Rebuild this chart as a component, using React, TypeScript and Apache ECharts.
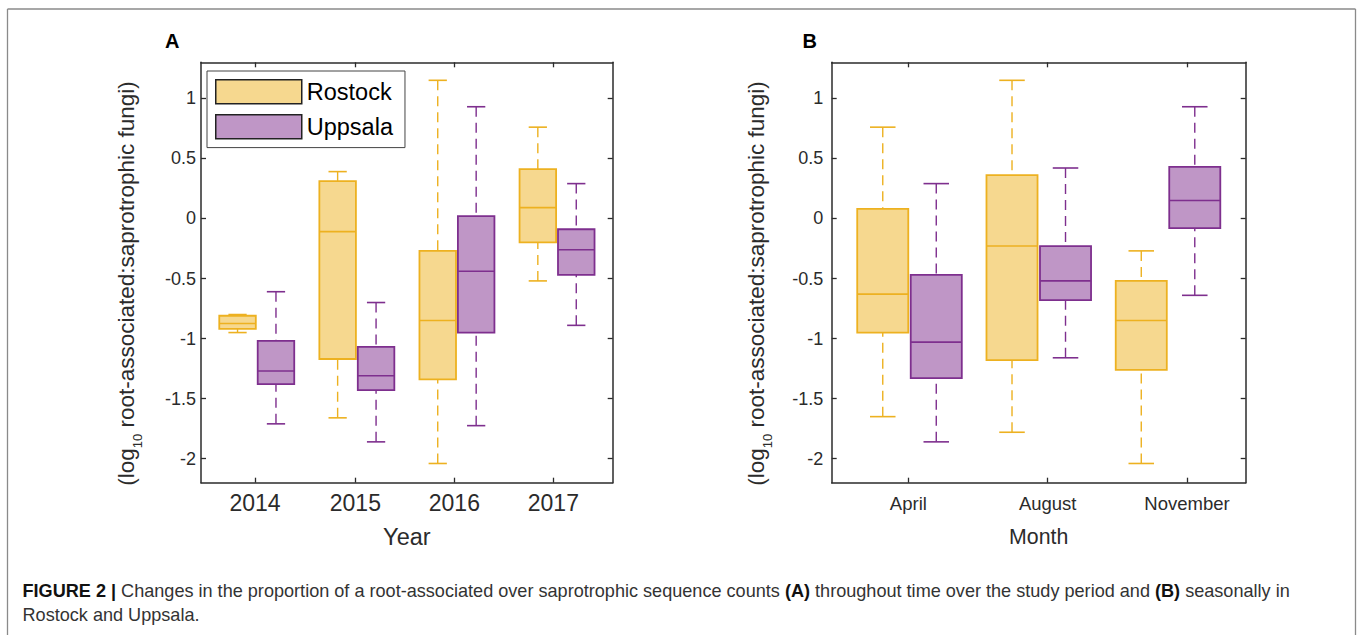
import React, { useEffect, useRef } from "react";
import * as echarts from "echarts";

// ---- data ----
const years = ["2014", "2015", "2016", "2017"];
const months = ["April", "August", "November"];
const seriesNames = ["Rostock", "Uppsala"];
// [min, q1, median, q3, max]
const rostockYear = [
  [-0.95, -0.92, -0.875, -0.81, -0.8],
  [-1.66, -1.17, -0.11, 0.31, 0.39],
  [-2.04, -1.34, -0.85, -0.27, 1.15],
  [-0.52, -0.2, 0.09, 0.41, 0.76],
];
const uppsalaYear = [
  [-1.71, -1.38, -1.27, -1.02, -0.61],
  [-1.86, -1.43, -1.31, -1.07, -0.7],
  [-1.725, -0.95, -0.44, 0.02, 0.93],
  [-0.89, -0.47, -0.26, -0.09, 0.29],
];
const rostockMonth = [
  [-1.65, -0.95, -0.63, 0.08, 0.76],
  [-1.78, -1.18, -0.23, 0.36, 1.15],
  [-2.04, -1.26, -0.85, -0.52, -0.27],
];
const uppsalaMonth = [
  [-1.86, -1.33, -1.03, -0.47, 0.29],
  [-1.16, -0.68, -0.52, -0.23, 0.42],
  [-0.64, -0.08, 0.15, 0.43, 0.93],
];
const yTicks = [-2, -1.5, -1, -0.5, 0, 0.5, 1];

// ---- layout ----
const FONT = "'Liberation Sans', Arial, Helvetica, sans-serif";
const AX = "#2b2b2b";
const R_FILL = "#F6D88F";
const R_EDGE = "#EDB120";
const U_FILL = "#BF96C6";
const U_EDGE = "#7E2F8E";
const Y_MIN = -2.2;
const Y_MAX = 1.3;
const A_RANGE = [-0.557, 3.556];
const A_TICKS = [-0.017, 0.985, 1.974, 2.963];
const A_OFF = 0.192;
const A_W = 0.365;
const B_RANGE = [-0.602, 2.601];
const B_TICKS = [-0.009, 1.069, 2.147];
const B_OFF = 0.207;
const B_W = 0.395;

const nearestLabel = (ticks: number[], labels: string[]) => (v: number) => {
  let best = 0;
  ticks.forEach((t, i) => {
    if (Math.abs(t - v) < Math.abs(ticks[best] - v)) best = i;
  });
  return labels[best];
};

const boxRender = (offset: number, width: number, fill: string, stroke: string) =>
  (params: any, api: any) => {
    const xc = api.value(0) + offset;
    const lo = api.coord([xc, api.value(1)]);
    const q1 = api.coord([xc, api.value(2)]);
    const md = api.coord([xc, api.value(3)]);
    const q3 = api.coord([xc, api.value(4)]);
    const hi = api.coord([xc, api.value(5)]);
    const w = api.size([width, 0])[0];
    const cx = lo[0];
    const cap = w / 4;
    const dashed = { stroke, lineWidth: 1.4, lineDash: [10, 6], fill: null };
    const solid = { stroke, lineWidth: 1.6, fill: null };
    return {
      type: "group",
      children: [
        { type: "line", shape: { x1: cx, y1: hi[1], x2: cx, y2: q3[1] }, style: dashed },
        { type: "line", shape: { x1: cx, y1: lo[1], x2: cx, y2: q1[1] }, style: dashed },
        { type: "line", shape: { x1: cx - cap, y1: hi[1], x2: cx + cap, y2: hi[1] }, style: solid },
        { type: "line", shape: { x1: cx - cap, y1: lo[1], x2: cx + cap, y2: lo[1] }, style: solid },
        {
          type: "rect",
          shape: { x: cx - w / 2, y: q3[1], width: w, height: q1[1] - q3[1] },
          style: { fill, stroke, lineWidth: 1.8 },
        },
        { type: "line", shape: { x1: cx - w / 2, y1: md[1], x2: cx + w / 2, y2: md[1] }, style: solid },
      ],
    };
  };

const yName = "{a|(log}{s|10}{a| root-associated:saprotrophic fungi)}";
const yNameStyle = {
  color: AX,
  fontFamily: FONT,
  padding: [0, 22, 0, 0],
  rich: {
    a: { fontSize: 22.5, color: AX, fontFamily: FONT, lineHeight: 29, verticalAlign: "top" },
    s: { fontSize: 13, color: AX, fontFamily: FONT, lineHeight: 13, padding: [16, 0, 0, 0], verticalAlign: "top" },
  },
};

export default function App() {
  const ref = useRef<HTMLDivElement>(null);
  useEffect(() => {
    if (!ref.current) return;
    const chart = echarts.init(ref.current, null, { renderer: "svg" });
    const axisLine = { show: true, onZero: false, lineStyle: { color: AX, width: 1.5 } };
    const tick = (vals: number[]) => ({
      show: true,
      inside: true,
      length: 5,
      customValues: vals,
      lineStyle: { color: AX, width: 1.3 },
    });
    const yAxisPair = (grid: number, margin: number, nameGap: number) => [
      {
        type: "value",
        gridIndex: grid,
        position: "left",
        min: Y_MIN,
        max: Y_MAX,
        axisLine,
        axisTick: tick(yTicks),
        splitLine: { show: false },
        axisLabel: {
          customValues: yTicks,
          margin,
          color: AX,
          fontSize: 18,
          fontFamily: FONT,
          formatter: (v: number) => String(v),
        },
        name: yName,
        nameLocation: "middle",
        nameRotate: 90,
        nameGap,
        nameTextStyle: yNameStyle,
      },
      {
        type: "value",
        gridIndex: grid,
        position: "right",
        min: Y_MIN,
        max: Y_MAX,
        axisLine,
        axisTick: tick(yTicks),
        splitLine: { show: false },
        axisLabel: { show: false },
      },
    ];
    const xAxisPair = (
      grid: number,
      range: number[],
      ticks: number[],
      labels: string[],
      fontSize: number,
      margin: number,
      name: string,
      nameSize: number,
      nameGap: number
    ) => [
      {
        type: "value",
        gridIndex: grid,
        position: "bottom",
        min: range[0],
        max: range[1],
        axisLine,
        axisTick: tick(ticks),
        splitLine: { show: false },
        axisLabel: {
          customValues: ticks,
          margin,
          color: AX,
          fontSize,
          fontFamily: FONT,
          formatter: nearestLabel(ticks, labels),
        },
        name,
        nameLocation: "middle",
        nameGap,
        nameTextStyle: { color: AX, fontSize: nameSize, fontFamily: FONT },
      },
      {
        type: "value",
        gridIndex: grid,
        position: "top",
        min: range[0],
        max: range[1],
        axisLine,
        axisTick: tick(ticks),
        splitLine: { show: false },
        axisLabel: { show: false },
      },
    ];
    const toData = (arr: number[][]) => arr.map((d, i) => [i, ...d]);
    const series = [
      { name: seriesNames[0], x: 0, y: 0, data: rostockYear, off: -A_OFF, w: A_W, fill: R_FILL, edge: R_EDGE },
      { name: seriesNames[1], x: 0, y: 0, data: uppsalaYear, off: A_OFF, w: A_W, fill: U_FILL, edge: U_EDGE },
      { name: seriesNames[0], x: 2, y: 2, data: rostockMonth, off: -B_OFF, w: B_W, fill: R_FILL, edge: R_EDGE },
      { name: seriesNames[1], x: 2, y: 2, data: uppsalaMonth, off: B_OFF, w: B_W, fill: U_FILL, edge: U_EDGE },
    ].map((s) => ({
      type: "custom",
      name: s.name,
      xAxisIndex: s.x,
      yAxisIndex: s.y,
      itemStyle: { color: s.fill, borderColor: s.edge },
      encode: { x: 0, y: [1, 2, 3, 4, 5] },
      data: toData(s.data),
      renderItem: boxRender(s.off, s.w, s.fill, s.edge),
    }));

    chart.setOption({
      animation: false,
      backgroundColor: "#ffffff",
      textStyle: { fontFamily: FONT },
      grid: [
        { left: 201, top: 62.3, width: 411.7, height: 420.4 },
        { left: 831.7, top: 62.3, width: 414, height: 420.4 },
      ],
      xAxis: [
        ...xAxisPair(0, A_RANGE, A_TICKS, years, 23, 8.5, "Year", 23.5, 42),
        ...xAxisPair(1, B_RANGE, B_TICKS, months, 18.5, 11.5, "Month", 21.3, 44),
      ],
      yAxis: [...yAxisPair(0, 5, 57), ...yAxisPair(1, 8.4, 58)],
      legend: {
        orient: "vertical",
        left: 207,
        top: 71,
        padding: [8, 12, 8, 8],
        itemGap: 9.6,
        itemWidth: 86,
        itemHeight: 24,
        borderColor: "#444",
        borderWidth: 1,
        backgroundColor: "#fff",
        selectedMode: false,
        textStyle: { fontSize: 23.5, color: "#000", fontFamily: FONT },
        data: [
          { name: seriesNames[0], icon: "rect", itemStyle: { color: R_FILL, borderColor: "#222", borderWidth: 1.5 } },
          { name: seriesNames[1], icon: "rect", itemStyle: { color: U_FILL, borderColor: "#222", borderWidth: 1.5 } },
        ],
      },
      graphic: [
        { type: "line", shape: { x1: 7.5, y1: 9, x2: 7.5, y2: 640 }, style: { stroke: "#8a8a8a", lineWidth: 1.3 } },
        { type: "line", shape: { x1: 7.5, y1: 9, x2: 1355.5, y2: 9 }, style: { stroke: "#8a8a8a", lineWidth: 1.3 } },
        { type: "line", shape: { x1: 1355.5, y1: 9, x2: 1355.5, y2: 640 }, style: { stroke: "#8a8a8a", lineWidth: 1.3 } },
        {
          type: "text",
          x: 165,
          y: 41,
          style: { text: "A", font: `bold 20px ${FONT}`, fill: "#000", textVerticalAlign: "middle" },
        },
        {
          type: "text",
          x: 802.5,
          y: 41,
          style: { text: "B", font: `bold 20px ${FONT}`, fill: "#000", textVerticalAlign: "middle" },
        },
        {
          type: "text",
          x: 22.5,
          y: 591,
          style: {
            text:
              "{b|FIGURE 2 |} Changes in the proportion of a root-associated over saprotrophic sequence counts {b|(A)} throughout time over the study period and {b|(B)} seasonally in",
            font: `18.1px ${FONT}`,
            fill: "#333",
            textVerticalAlign: "middle",
            rich: {
              b: { fontWeight: "bold", fontSize: 18.1, fontFamily: FONT, fill: "#111" },
            },
          },
        },
        {
          type: "text",
          x: 22.5,
          y: 615,
          style: {
            text: "Rostock and Uppsala.",
            font: `18.1px ${FONT}`,
            fill: "#333",
            textVerticalAlign: "middle",
          },
        },
      ],
      series,
    });
    return () => chart.dispose();
  }, []);
  return (
    <div
      ref={ref}
      style={{ position: "fixed", left: 0, top: 0, width: 1358, height: 635, background: "#fff" }}
    />
  );
}
